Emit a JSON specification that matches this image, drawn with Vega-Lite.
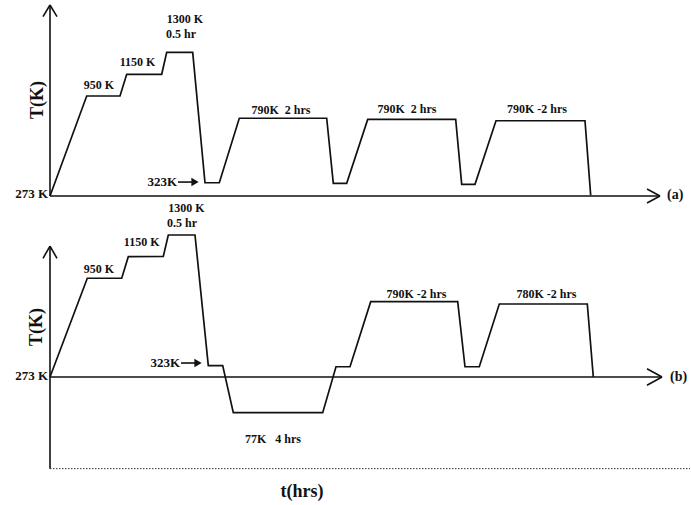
{
  "$schema": "https://vega.github.io/schema/vega-lite/v6.json",
  "padding": 0,
  "spacing": 0,
  "bounds": "flush",
  "background": "white",
  "config": {"view": {"stroke": null}, "text": {"font": "Liberation Serif", "fontWeight": "bold", "fill": "#111"}},
  "resolve": {"scale": {"x": "independent", "y": "independent"}},
  "datasets": {
    "profA": [
      {"i": 0, "t": 0, "T": 273}, {"i": 1, "t": 3.67, "T": 988}, {"i": 2, "t": 7.0, "T": 988},
      {"i": 3, "t": 7.67, "T": 1143}, {"i": 4, "t": 11.17, "T": 1143}, {"i": 5, "t": 11.67, "T": 1300},
      {"i": 6, "t": 14.27, "T": 1300}, {"i": 7, "t": 15.5, "T": 368}, {"i": 8, "t": 16.93, "T": 368},
      {"i": 9, "t": 18.93, "T": 829}, {"i": 10, "t": 27.67, "T": 829}, {"i": 11, "t": 28.33, "T": 364},
      {"i": 12, "t": 29.67, "T": 364}, {"i": 13, "t": 31.77, "T": 821}, {"i": 14, "t": 40.57, "T": 821},
      {"i": 15, "t": 41.17, "T": 357}, {"i": 16, "t": 42.5, "T": 357}, {"i": 17, "t": 44.6, "T": 811},
      {"i": 18, "t": 53.5, "T": 811}, {"i": 19, "t": 54.07, "T": 278}
    ],
    "profB": [
      {"i": 0, "t": 0, "T": 273}, {"i": 1, "t": 3.73, "T": 987}, {"i": 2, "t": 7.17, "T": 987},
      {"i": 3, "t": 7.83, "T": 1143}, {"i": 4, "t": 11.33, "T": 1145}, {"i": 5, "t": 11.83, "T": 1300},
      {"i": 6, "t": 14.5, "T": 1300}, {"i": 7, "t": 15.83, "T": 355}, {"i": 8, "t": 17.27, "T": 355},
      {"i": 9, "t": 18.33, "T": 15}, {"i": 10, "t": 27.27, "T": 15}, {"i": 11, "t": 28.6, "T": 347},
      {"i": 12, "t": 30.0, "T": 347}, {"i": 13, "t": 32.07, "T": 818}, {"i": 14, "t": 40.77, "T": 818},
      {"i": 15, "t": 41.5, "T": 347}, {"i": 16, "t": 42.93, "T": 347}, {"i": 17, "t": 44.93, "T": 801},
      {"i": 18, "t": 53.73, "T": 801}, {"i": 19, "t": 54.33, "T": 273}
    ],
    "axA": [
      {"t": 0, "T": 273, "t2": 61, "T2": 273},
      {"t": 59.7, "T": 323, "t2": 61, "T2": 273},
      {"t": 59.7, "T": 223, "t2": 61, "T2": 273},
      {"t": 0, "T": 273, "t2": 0, "T2": 1638},
      {"t": -0.7, "T": 1555, "t2": 0, "T2": 1638},
      {"t": 0.7, "T": 1555, "t2": 0, "T2": 1638},
      {"t": 12.8, "T": 373, "t2": 14.2, "T2": 373}
    ],
    "axB": [
      {"t": 0, "T": 273, "t2": 61.2, "T2": 273},
      {"t": 59.7, "T": 333, "t2": 61.2, "T2": 273},
      {"t": 59.7, "T": 213, "t2": 61.2, "T2": 273},
      {"t": 0, "T": -390, "t2": 0, "T2": 1220},
      {"t": -0.7, "T": 1131, "t2": 0, "T2": 1220},
      {"t": 0.7, "T": 1131, "t2": 0, "T2": 1220},
      {"t": 13.1, "T": 374, "t2": 14.5, "T2": 374}
    ],
    "arrA": [{"t": 14.5, "T": 373}],
    "arrB": [{"t": 14.8, "T": 374}],
    "dotB": [{"t": 0, "T": -390, "t2": 64, "T2": -390}],
    "labA": [
      {"t": 13.5, "T": 1538, "text": "1300 K"},
      {"t": 13.1, "T": 1431, "text": "0.5 hr"},
      {"t": 8.75, "T": 1231, "text": "1150 K"},
      {"t": 4.9, "T": 1067, "text": "950 K"},
      {"t": 23.1, "T": 888, "text": "790K\u00a0 2 hrs"},
      {"t": 35.7, "T": 893, "text": "790K\u00a0 2 hrs"},
      {"t": 48.7, "T": 893, "text": "790K -2 hrs"}
    ],
    "labAr": [
      {"t": 12.7, "T": 373, "text": "323K"},
      {"t": -0.2, "T": 288, "text": "273 K"}
    ],
    "labB": [
      {"t": 13.65, "T": 1495, "text": "1300 K"},
      {"t": 13.2, "T": 1387, "text": "0.5 hr"},
      {"t": 9.17, "T": 1252, "text": "1150 K"},
      {"t": 4.9, "T": 1054, "text": "950 K"},
      {"t": 36.65, "T": 873, "text": "790K -2 hrs"},
      {"t": 49.65, "T": 873, "text": "780K -2 hrs"},
      {"t": 22.3, "T": -176, "text": "77K\u00a0\u00a0 4 hrs"}
    ],
    "labBr": [
      {"t": 13.0, "T": 374, "text": "323K"},
      {"t": -0.2, "T": 280, "text": "273 K"}
    ]
  },
  "vconcat": [
    {
      "width": 691,
      "height": 205,
      "encoding": {
        "x": {"field": "t", "type": "quantitative", "scale": {"domain": [-5, 64.1], "nice": false, "zero": false}, "axis": null},
        "y": {"field": "T", "type": "quantitative", "scale": {"domain": [209, 1674], "nice": false, "zero": false}, "axis": null}
      },
      "layer": [
        {"data": {"name": "axA"}, "mark": {"type": "rule", "stroke": "#111", "strokeWidth": 1.6},
         "encoding": {"x2": {"field": "t2"}, "y2": {"field": "T2"}}},
        {"data": {"name": "arrA"}, "mark": {"type": "point", "shape": "triangle-right", "filled": true, "fill": "#111", "opacity": 1, "size": 70}},
        {"data": {"name": "profA"}, "mark": {"type": "line", "stroke": "#111", "strokeWidth": 1.7},
         "encoding": {"order": {"field": "i", "type": "quantitative"}}},
        {"data": {"name": "labA"}, "mark": {"type": "text", "fontSize": 12, "align": "center", "baseline": "middle"},
         "encoding": {"text": {"field": "text"}}},
        {"data": {"name": "labAr"}, "mark": {"type": "text", "fontSize": 13, "align": "right", "baseline": "middle"},
         "encoding": {"text": {"field": "text"}}},
        {"data": {"values": [{"t": -1.2, "T": 959, "text": "T(K)"}]}, "mark": {"type": "text", "fontSize": 18, "angle": 270, "align": "center", "baseline": "middle"},
         "encoding": {"text": {"field": "text"}}},
        {"data": {"values": [{"t": 61.7, "T": 281, "text": "(a)"}]}, "mark": {"type": "text", "fontSize": 14, "align": "left", "baseline": "middle"},
         "encoding": {"text": {"field": "text"}}}
      ]
    },
    {
      "width": 691,
      "height": 300,
      "encoding": {
        "x": {"field": "t", "type": "quantitative", "scale": {"domain": [-5, 64.1], "nice": false, "zero": false}, "axis": null},
        "y": {"field": "T", "type": "quantitative", "scale": {"domain": [-653, 1517], "nice": false, "zero": false}, "axis": null}
      },
      "layer": [
        {"data": {"name": "axB"}, "mark": {"type": "rule", "stroke": "#111", "strokeWidth": 1.6},
         "encoding": {"x2": {"field": "t2"}, "y2": {"field": "T2"}}},
        {"data": {"name": "dotB"}, "mark": {"type": "rule", "stroke": "#333", "strokeWidth": 1, "strokeDash": [1.5, 1.5]},
         "encoding": {"x2": {"field": "t2"}, "y2": {"field": "T2"}}},
        {"data": {"name": "arrB"}, "mark": {"type": "point", "shape": "triangle-right", "filled": true, "fill": "#111", "opacity": 1, "size": 70}},
        {"data": {"name": "profB"}, "mark": {"type": "line", "stroke": "#111", "strokeWidth": 1.7},
         "encoding": {"order": {"field": "i", "type": "quantitative"}}},
        {"data": {"name": "labB"}, "mark": {"type": "text", "fontSize": 12, "align": "center", "baseline": "middle"},
         "encoding": {"text": {"field": "text"}}},
        {"data": {"name": "labBr"}, "mark": {"type": "text", "fontSize": 13, "align": "right", "baseline": "middle"},
         "encoding": {"text": {"field": "text"}}},
        {"data": {"values": [{"t": -1.3, "T": 635, "text": "T(K)"}]}, "mark": {"type": "text", "fontSize": 18, "angle": 270, "align": "center", "baseline": "middle"},
         "encoding": {"text": {"field": "text"}}},
        {"data": {"values": [{"t": 62.0, "T": 273, "text": "(b)"}]}, "mark": {"type": "text", "fontSize": 14, "align": "left", "baseline": "middle"},
         "encoding": {"text": {"field": "text"}}},
        {"data": {"values": [{"t": 25.2, "T": -559, "text": "t(hrs)"}]}, "mark": {"type": "text", "fontSize": 18, "align": "center", "baseline": "middle"},
         "encoding": {"text": {"field": "text"}}}
      ]
    }
  ]
}
